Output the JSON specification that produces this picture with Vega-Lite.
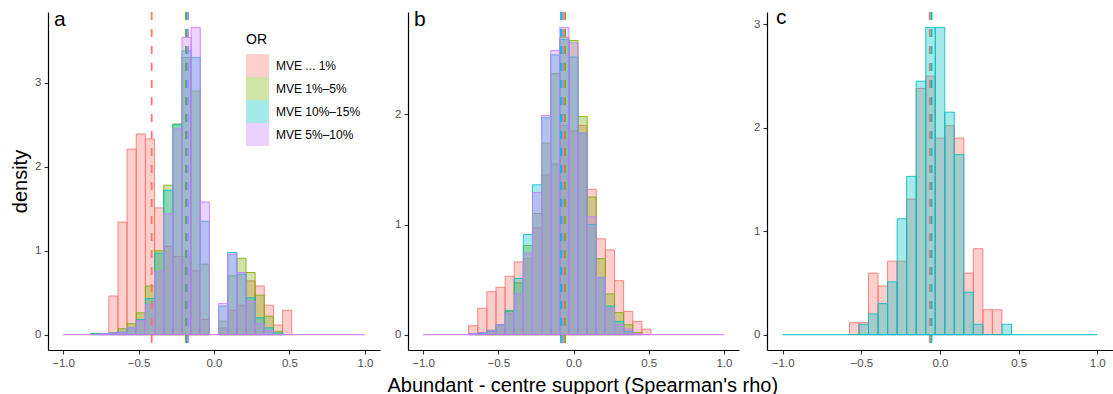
{
  "$schema": "https://vega.github.io/schema/vega-lite/v6.json",
  "background": "white",
  "padding": {"left": 10, "top": 7, "right": 0, "bottom": 0},
  "config": {
    "font": "Liberation Sans",
    "view": {"stroke": null},
    "axis": {
      "grid": false,
      "domainColor": "black",
      "domainWidth": 1.2,
      "tickColor": "#333333",
      "tickSize": 4,
      "tickWidth": 1.1,
      "labelColor": "#4D4D4D",
      "labelFont": "Liberation Sans",
      "labelFontSize": 11.5,
      "labelPadding": 3,
      "titleFont": "Liberation Sans",
      "titleFontWeight": "normal",
      "titleFontSize": 20,
      "titleColor": "black",
      "titlePadding": 4
    },
    "legend": {"padding": 0, "offset": 0}
  },
  "title": {
    "text": "Abundant - centre support (Spearman's rho)",
    "orient": "bottom",
    "anchor": "middle",
    "font": "Liberation Sans",
    "fontSize": 20,
    "fontWeight": "normal",
    "color": "black",
    "offset": 7,
    "dx": 21
  },
  "datasets": {
    "bars_a": [
      {"OR": "MVE ... 1%", "lo": -0.697, "hi": -0.6364, "density": 0.46},
      {"OR": "MVE ... 1%", "lo": -0.6364, "hi": -0.5758, "density": 1.34},
      {"OR": "MVE ... 1%", "lo": -0.5758, "hi": -0.5152, "density": 2.21},
      {"OR": "MVE ... 1%", "lo": -0.5152, "hi": -0.4545, "density": 2.39},
      {"OR": "MVE ... 1%", "lo": -0.4545, "hi": -0.3939, "density": 2.33},
      {"OR": "MVE ... 1%", "lo": -0.3939, "hi": -0.3333, "density": 1.51},
      {"OR": "MVE ... 1%", "lo": -0.3333, "hi": -0.2727, "density": 1.05},
      {"OR": "MVE ... 1%", "lo": -0.2727, "hi": -0.2121, "density": 0.93},
      {"OR": "MVE ... 1%", "lo": -0.2121, "hi": -0.1515, "density": 0.93},
      {"OR": "MVE ... 1%", "lo": -0.1515, "hi": -0.0909, "density": 0.76},
      {"OR": "MVE ... 1%", "lo": -0.0909, "hi": -0.0303, "density": 0.18},
      {"OR": "MVE ... 1%", "lo": 0.0303, "hi": 0.0909, "density": 0.08},
      {"OR": "MVE ... 1%", "lo": 0.0909, "hi": 0.1515, "density": 0.29},
      {"OR": "MVE ... 1%", "lo": 0.1515, "hi": 0.2121, "density": 0.35},
      {"OR": "MVE ... 1%", "lo": 0.2121, "hi": 0.2727, "density": 0.64},
      {"OR": "MVE ... 1%", "lo": 0.2727, "hi": 0.3333, "density": 0.58},
      {"OR": "MVE ... 1%", "lo": 0.3333, "hi": 0.3939, "density": 0.35},
      {"OR": "MVE ... 1%", "lo": 0.3939, "hi": 0.4545, "density": 0.115},
      {"OR": "MVE ... 1%", "lo": 0.4545, "hi": 0.5152, "density": 0.29},

      {"OR": "MVE 1%–5%", "lo": -0.8182, "hi": -0.7576, "density": 0.01},
      {"OR": "MVE 1%–5%", "lo": -0.7576, "hi": -0.697, "density": 0.01},
      {"OR": "MVE 1%–5%", "lo": -0.697, "hi": -0.6364, "density": 0.02},
      {"OR": "MVE 1%–5%", "lo": -0.6364, "hi": -0.5758, "density": 0.07},
      {"OR": "MVE 1%–5%", "lo": -0.5758, "hi": -0.5152, "density": 0.13},
      {"OR": "MVE 1%–5%", "lo": -0.5152, "hi": -0.4545, "density": 0.26},
      {"OR": "MVE 1%–5%", "lo": -0.4545, "hi": -0.3939, "density": 0.58},
      {"OR": "MVE 1%–5%", "lo": -0.3939, "hi": -0.3333, "density": 1.0},
      {"OR": "MVE 1%–5%", "lo": -0.3333, "hi": -0.2727, "density": 1.78},
      {"OR": "MVE 1%–5%", "lo": -0.2727, "hi": -0.2121, "density": 2.51},
      {"OR": "MVE 1%–5%", "lo": -0.2121, "hi": -0.1515, "density": 3.3},
      {"OR": "MVE 1%–5%", "lo": -0.1515, "hi": -0.0909, "density": 2.9},
      {"OR": "MVE 1%–5%", "lo": -0.0909, "hi": -0.0303, "density": 0.84},
      {"OR": "MVE 1%–5%", "lo": 0.0303, "hi": 0.0909, "density": 0.16},
      {"OR": "MVE 1%–5%", "lo": 0.0909, "hi": 0.1515, "density": 0.7},
      {"OR": "MVE 1%–5%", "lo": 0.1515, "hi": 0.2121, "density": 0.91},
      {"OR": "MVE 1%–5%", "lo": 0.2121, "hi": 0.2727, "density": 0.74},
      {"OR": "MVE 1%–5%", "lo": 0.2727, "hi": 0.3333, "density": 0.47},
      {"OR": "MVE 1%–5%", "lo": 0.3333, "hi": 0.3939, "density": 0.22},
      {"OR": "MVE 1%–5%", "lo": 0.3939, "hi": 0.4545, "density": 0.04},

      {"OR": "MVE 10%–15%", "lo": -0.8182, "hi": -0.7576, "density": 0.01},
      {"OR": "MVE 10%–15%", "lo": -0.7576, "hi": -0.697, "density": 0.01},
      {"OR": "MVE 10%–15%", "lo": -0.697, "hi": -0.6364, "density": 0.02},
      {"OR": "MVE 10%–15%", "lo": -0.6364, "hi": -0.5758, "density": 0.03},
      {"OR": "MVE 10%–15%", "lo": -0.5758, "hi": -0.5152, "density": 0.08},
      {"OR": "MVE 10%–15%", "lo": -0.5152, "hi": -0.4545, "density": 0.18},
      {"OR": "MVE 10%–15%", "lo": -0.4545, "hi": -0.3939, "density": 0.43},
      {"OR": "MVE 10%–15%", "lo": -0.3939, "hi": -0.3333, "density": 0.97},
      {"OR": "MVE 10%–15%", "lo": -0.3333, "hi": -0.2727, "density": 1.72},
      {"OR": "MVE 10%–15%", "lo": -0.2727, "hi": -0.2121, "density": 2.5},
      {"OR": "MVE 10%–15%", "lo": -0.2121, "hi": -0.1515, "density": 3.38},
      {"OR": "MVE 10%–15%", "lo": -0.1515, "hi": -0.0909, "density": 3.3},
      {"OR": "MVE 10%–15%", "lo": -0.0909, "hi": -0.0303, "density": 1.35},
      {"OR": "MVE 10%–15%", "lo": 0.0303, "hi": 0.0909, "density": 0.34},
      {"OR": "MVE 10%–15%", "lo": 0.0909, "hi": 0.1515, "density": 0.98},
      {"OR": "MVE 10%–15%", "lo": 0.1515, "hi": 0.2121, "density": 0.72},
      {"OR": "MVE 10%–15%", "lo": 0.2121, "hi": 0.2727, "density": 0.44},
      {"OR": "MVE 10%–15%", "lo": 0.2727, "hi": 0.3333, "density": 0.2},
      {"OR": "MVE 10%–15%", "lo": 0.3333, "hi": 0.3939, "density": 0.08},
      {"OR": "MVE 10%–15%", "lo": 0.3939, "hi": 0.4545, "density": 0.02},

      {"OR": "MVE 5%–10%", "lo": -0.7576, "hi": -0.697, "density": 0.01},
      {"OR": "MVE 5%–10%", "lo": -0.697, "hi": -0.6364, "density": 0.02},
      {"OR": "MVE 5%–10%", "lo": -0.6364, "hi": -0.5758, "density": 0.03},
      {"OR": "MVE 5%–10%", "lo": -0.5758, "hi": -0.5152, "density": 0.08},
      {"OR": "MVE 5%–10%", "lo": -0.5152, "hi": -0.4545, "density": 0.17},
      {"OR": "MVE 5%–10%", "lo": -0.4545, "hi": -0.3939, "density": 0.36},
      {"OR": "MVE 5%–10%", "lo": -0.3939, "hi": -0.3333, "density": 0.75},
      {"OR": "MVE 5%–10%", "lo": -0.3333, "hi": -0.2727, "density": 1.44},
      {"OR": "MVE 5%–10%", "lo": -0.2727, "hi": -0.2121, "density": 2.45},
      {"OR": "MVE 5%–10%", "lo": -0.2121, "hi": -0.1515, "density": 3.54},
      {"OR": "MVE 5%–10%", "lo": -0.1515, "hi": -0.0909, "density": 3.66},
      {"OR": "MVE 5%–10%", "lo": -0.0909, "hi": -0.0303, "density": 1.58},
      {"OR": "MVE 5%–10%", "lo": 0.0303, "hi": 0.0909, "density": 0.37},
      {"OR": "MVE 5%–10%", "lo": 0.0909, "hi": 0.1515, "density": 0.96},
      {"OR": "MVE 5%–10%", "lo": 0.1515, "hi": 0.2121, "density": 0.74},
      {"OR": "MVE 5%–10%", "lo": 0.2121, "hi": 0.2727, "density": 0.4},
      {"OR": "MVE 5%–10%", "lo": 0.2727, "hi": 0.3333, "density": 0.13},
      {"OR": "MVE 5%–10%", "lo": 0.3333, "hi": 0.3939, "density": 0.05}
    ],
    "bars_b": [
      {"OR": "MVE ... 1%", "lo": -0.697, "hi": -0.6364, "density": 0.08},
      {"OR": "MVE ... 1%", "lo": -0.6364, "hi": -0.5758, "density": 0.24},
      {"OR": "MVE ... 1%", "lo": -0.5758, "hi": -0.5152, "density": 0.39},
      {"OR": "MVE ... 1%", "lo": -0.5152, "hi": -0.4545, "density": 0.43},
      {"OR": "MVE ... 1%", "lo": -0.4545, "hi": -0.3939, "density": 0.53},
      {"OR": "MVE ... 1%", "lo": -0.3939, "hi": -0.3333, "density": 0.66},
      {"OR": "MVE ... 1%", "lo": -0.3333, "hi": -0.2727, "density": 0.69},
      {"OR": "MVE ... 1%", "lo": -0.2727, "hi": -0.2121, "density": 0.97},
      {"OR": "MVE ... 1%", "lo": -0.2121, "hi": -0.1515, "density": 1.45},
      {"OR": "MVE ... 1%", "lo": -0.1515, "hi": -0.0909, "density": 1.55},
      {"OR": "MVE ... 1%", "lo": -0.0909, "hi": -0.0303, "density": 1.9},
      {"OR": "MVE ... 1%", "lo": -0.0303, "hi": 0.0303, "density": 1.85},
      {"OR": "MVE ... 1%", "lo": 0.0303, "hi": 0.0909, "density": 1.9},
      {"OR": "MVE ... 1%", "lo": 0.0909, "hi": 0.1515, "density": 1.32},
      {"OR": "MVE ... 1%", "lo": 0.1515, "hi": 0.2121, "density": 0.87},
      {"OR": "MVE ... 1%", "lo": 0.2121, "hi": 0.2727, "density": 0.77},
      {"OR": "MVE ... 1%", "lo": 0.2727, "hi": 0.3333, "density": 0.49},
      {"OR": "MVE ... 1%", "lo": 0.3333, "hi": 0.3939, "density": 0.21},
      {"OR": "MVE ... 1%", "lo": 0.3939, "hi": 0.4545, "density": 0.12},
      {"OR": "MVE ... 1%", "lo": 0.4545, "hi": 0.5152, "density": 0.05},

      {"OR": "MVE 1%–5%", "lo": -0.697, "hi": -0.6364, "density": 0.01},
      {"OR": "MVE 1%–5%", "lo": -0.6364, "hi": -0.5758, "density": 0.02},
      {"OR": "MVE 1%–5%", "lo": -0.5758, "hi": -0.5152, "density": 0.04},
      {"OR": "MVE 1%–5%", "lo": -0.5152, "hi": -0.4545, "density": 0.09},
      {"OR": "MVE 1%–5%", "lo": -0.4545, "hi": -0.3939, "density": 0.21},
      {"OR": "MVE 1%–5%", "lo": -0.3939, "hi": -0.3333, "density": 0.47},
      {"OR": "MVE 1%–5%", "lo": -0.3333, "hi": -0.2727, "density": 0.81},
      {"OR": "MVE 1%–5%", "lo": -0.2727, "hi": -0.2121, "density": 1.1},
      {"OR": "MVE 1%–5%", "lo": -0.2121, "hi": -0.1515, "density": 1.74},
      {"OR": "MVE 1%–5%", "lo": -0.1515, "hi": -0.0909, "density": 2.37},
      {"OR": "MVE 1%–5%", "lo": -0.0909, "hi": -0.0303, "density": 2.7},
      {"OR": "MVE 1%–5%", "lo": -0.0303, "hi": 0.0303, "density": 2.67},
      {"OR": "MVE 1%–5%", "lo": 0.0303, "hi": 0.0909, "density": 1.98},
      {"OR": "MVE 1%–5%", "lo": 0.0909, "hi": 0.1515, "density": 1.25},
      {"OR": "MVE 1%–5%", "lo": 0.1515, "hi": 0.2121, "density": 0.69},
      {"OR": "MVE 1%–5%", "lo": 0.2121, "hi": 0.2727, "density": 0.37},
      {"OR": "MVE 1%–5%", "lo": 0.2727, "hi": 0.3333, "density": 0.2},
      {"OR": "MVE 1%–5%", "lo": 0.3333, "hi": 0.3939, "density": 0.09},
      {"OR": "MVE 1%–5%", "lo": 0.3939, "hi": 0.4545, "density": 0.02},

      {"OR": "MVE 10%–15%", "lo": -0.697, "hi": -0.6364, "density": 0.01},
      {"OR": "MVE 10%–15%", "lo": -0.6364, "hi": -0.5758, "density": 0.01},
      {"OR": "MVE 10%–15%", "lo": -0.5758, "hi": -0.5152, "density": 0.03},
      {"OR": "MVE 10%–15%", "lo": -0.5152, "hi": -0.4545, "density": 0.09},
      {"OR": "MVE 10%–15%", "lo": -0.4545, "hi": -0.3939, "density": 0.22},
      {"OR": "MVE 10%–15%", "lo": -0.3939, "hi": -0.3333, "density": 0.51},
      {"OR": "MVE 10%–15%", "lo": -0.3333, "hi": -0.2727, "density": 0.91},
      {"OR": "MVE 10%–15%", "lo": -0.2727, "hi": -0.2121, "density": 1.36},
      {"OR": "MVE 10%–15%", "lo": -0.2121, "hi": -0.1515, "density": 1.97},
      {"OR": "MVE 10%–15%", "lo": -0.1515, "hi": -0.0909, "density": 2.54},
      {"OR": "MVE 10%–15%", "lo": -0.0909, "hi": -0.0303, "density": 2.68},
      {"OR": "MVE 10%–15%", "lo": -0.0303, "hi": 0.0303, "density": 2.52},
      {"OR": "MVE 10%–15%", "lo": 0.0303, "hi": 0.0909, "density": 1.83},
      {"OR": "MVE 10%–15%", "lo": 0.0909, "hi": 0.1515, "density": 1.0},
      {"OR": "MVE 10%–15%", "lo": 0.1515, "hi": 0.2121, "density": 0.52},
      {"OR": "MVE 10%–15%", "lo": 0.2121, "hi": 0.2727, "density": 0.26},
      {"OR": "MVE 10%–15%", "lo": 0.2727, "hi": 0.3333, "density": 0.12},
      {"OR": "MVE 10%–15%", "lo": 0.3333, "hi": 0.3939, "density": 0.03},

      {"OR": "MVE 5%–10%", "lo": -0.697, "hi": -0.6364, "density": 0.01},
      {"OR": "MVE 5%–10%", "lo": -0.6364, "hi": -0.5758, "density": 0.02},
      {"OR": "MVE 5%–10%", "lo": -0.5758, "hi": -0.5152, "density": 0.04},
      {"OR": "MVE 5%–10%", "lo": -0.5152, "hi": -0.4545, "density": 0.09},
      {"OR": "MVE 5%–10%", "lo": -0.4545, "hi": -0.3939, "density": 0.19},
      {"OR": "MVE 5%–10%", "lo": -0.3939, "hi": -0.3333, "density": 0.37},
      {"OR": "MVE 5%–10%", "lo": -0.3333, "hi": -0.2727, "density": 0.74},
      {"OR": "MVE 5%–10%", "lo": -0.2727, "hi": -0.2121, "density": 1.29},
      {"OR": "MVE 5%–10%", "lo": -0.2121, "hi": -0.1515, "density": 1.99},
      {"OR": "MVE 5%–10%", "lo": -0.1515, "hi": -0.0909, "density": 2.58},
      {"OR": "MVE 5%–10%", "lo": -0.0909, "hi": -0.0303, "density": 2.79},
      {"OR": "MVE 5%–10%", "lo": -0.0303, "hi": 0.0303, "density": 2.65},
      {"OR": "MVE 5%–10%", "lo": 0.0303, "hi": 0.0909, "density": 1.83},
      {"OR": "MVE 5%–10%", "lo": 0.0909, "hi": 0.1515, "density": 1.07},
      {"OR": "MVE 5%–10%", "lo": 0.1515, "hi": 0.2121, "density": 0.52},
      {"OR": "MVE 5%–10%", "lo": 0.2121, "hi": 0.2727, "density": 0.24},
      {"OR": "MVE 5%–10%", "lo": 0.2727, "hi": 0.3333, "density": 0.09},
      {"OR": "MVE 5%–10%", "lo": 0.3333, "hi": 0.3939, "density": 0.05},
      {"OR": "MVE 5%–10%", "lo": 0.3939, "hi": 0.4545, "density": 0.01}
    ],
    "bars_c": [
      {"OR": "group 1", "lo": -0.5758, "hi": -0.5152, "density": 0.116},
      {"OR": "group 1", "lo": -0.5152, "hi": -0.4545, "density": 0.116},
      {"OR": "group 1", "lo": -0.4545, "hi": -0.3939, "density": 0.595},
      {"OR": "group 1", "lo": -0.3939, "hi": -0.3333, "density": 0.47},
      {"OR": "group 1", "lo": -0.3333, "hi": -0.2727, "density": 0.71},
      {"OR": "group 1", "lo": -0.2727, "hi": -0.2121, "density": 0.71},
      {"OR": "group 1", "lo": -0.2121, "hi": -0.1515, "density": 1.31},
      {"OR": "group 1", "lo": -0.1515, "hi": -0.0909, "density": 2.38},
      {"OR": "group 1", "lo": -0.0909, "hi": -0.0303, "density": 2.5},
      {"OR": "group 1", "lo": -0.0303, "hi": 0.0303, "density": 1.9},
      {"OR": "group 1", "lo": 0.0303, "hi": 0.0909, "density": 2.02},
      {"OR": "group 1", "lo": 0.0909, "hi": 0.1515, "density": 1.9},
      {"OR": "group 1", "lo": 0.1515, "hi": 0.2121, "density": 0.595},
      {"OR": "group 1", "lo": 0.2121, "hi": 0.2727, "density": 0.83},
      {"OR": "group 1", "lo": 0.2727, "hi": 0.3333, "density": 0.24},
      {"OR": "group 1", "lo": 0.3333, "hi": 0.3939, "density": 0.24},

      {"OR": "group 2", "lo": -0.5152, "hi": -0.4545, "density": 0.1},
      {"OR": "group 2", "lo": -0.4545, "hi": -0.3939, "density": 0.2},
      {"OR": "group 2", "lo": -0.3939, "hi": -0.3333, "density": 0.3},
      {"OR": "group 2", "lo": -0.3333, "hi": -0.2727, "density": 0.51},
      {"OR": "group 2", "lo": -0.2727, "hi": -0.2121, "density": 1.12},
      {"OR": "group 2", "lo": -0.2121, "hi": -0.1515, "density": 1.53},
      {"OR": "group 2", "lo": -0.1515, "hi": -0.0909, "density": 2.45},
      {"OR": "group 2", "lo": -0.0909, "hi": -0.0303, "density": 2.97},
      {"OR": "group 2", "lo": -0.0303, "hi": 0.0303, "density": 2.97},
      {"OR": "group 2", "lo": 0.0303, "hi": 0.0909, "density": 2.15},
      {"OR": "group 2", "lo": 0.0909, "hi": 0.1515, "density": 1.74},
      {"OR": "group 2", "lo": 0.1515, "hi": 0.2121, "density": 0.41},
      {"OR": "group 2", "lo": 0.2121, "hi": 0.2727, "density": 0.1},
      {"OR": "group 2", "lo": 0.3939, "hi": 0.4545, "density": 0.1}
    ],
    "base_a": [{"OR": "MVE 5%–10%", "lo": -1, "hi": 1}],
    "base_b": [{"OR": "MVE 5%–10%", "lo": -1, "hi": 1}],
    "base_c": [{"OR": "group 2", "lo": -1, "hi": 1}],
    "mean_a": [
      {"OR": "MVE ... 1%", "mean": -0.413},
      {"OR": "MVE 1%–5%", "mean": -0.186},
      {"OR": "MVE 10%–15%", "mean": -0.179},
      {"OR": "MVE 5%–10%", "mean": -0.172}
    ],
    "mean_b": [
      {"OR": "MVE ... 1%", "mean": -0.069},
      {"OR": "MVE 1%–5%", "mean": -0.056},
      {"OR": "MVE 10%–15%", "mean": -0.083},
      {"OR": "MVE 5%–10%", "mean": -0.069}
    ],
    "mean_c": [
      {"OR": "group 1", "mean": -0.065},
      {"OR": "group 2", "mean": -0.054}
    ]
  },
  "bounds": "flush",
  "spacing": 28,
  "resolve": {"scale": {"color": "independent", "stroke": "independent", "x": "independent", "y": "independent"}, "legend": {"color": "independent", "stroke": "independent"}},
  "hconcat": [
    {
      "width": 332,
      "height": 338,
      "layer": [
        {
          "data": {"name": "bars_a"},
          "mark": {"type": "bar", "fillOpacity": 0.35, "strokeWidth": 1, "strokeOpacity": 0.85},
          "encoding": {
            "x": {"field": "lo", "type": "quantitative", "scale": {"domain": [-1.1, 1.1], "nice": false, "zero": false}, "axis": {"values": [-1, -0.5, 0, 0.5, 1], "format": ".1f", "title": null}},
            "x2": {"field": "hi"},
            "y": {"field": "density", "type": "quantitative", "stack": null, "scale": {"domain": [-0.183, 3.843], "nice": false, "zero": false}, "axis": {"values": [0, 1, 2, 3], "format": "d", "title": "density"}},
            "y2": {"datum": 0},
            "color": {"field": "OR", "type": "nominal", "scale": {"domain": ["MVE ... 1%", "MVE 1%–5%", "MVE 10%–15%", "MVE 5%–10%"], "range": ["#F8766D", "#7CAE00", "#00BFC4", "#C77CFF"]},
              "legend": {"orient": "none", "legendX": 198, "legendY": 21, "direction": "vertical", "title": "OR", "titleFont": "Liberation Sans", "titleFontSize": 14, "titleFontWeight": "normal", "titleColor": "black", "titlePadding": 7, "labelFont": "Liberation Sans", "labelFontSize": 12, "labelColor": "black", "labelOffset": 7, "symbolType": "square", "symbolSize": 529, "symbolStrokeWidth": 0, "symbolOpacity": 0.35, "rowPadding": 0}},
            "stroke": {"field": "OR", "type": "nominal", "scale": {"domain": ["MVE ... 1%", "MVE 1%–5%", "MVE 10%–15%", "MVE 5%–10%"], "range": ["#F8766D", "#7CAE00", "#00BFC4", "#C77CFF"]}, "legend": null}
          }
        },
        {
          "data": {"name": "base_a"},
          "mark": {"type": "rule", "strokeWidth": 1.2, "opacity": 0.85},
          "encoding": {
            "x": {"field": "lo", "type": "quantitative"},
            "x2": {"field": "hi"},
            "y": {"datum": 0},
            "color": {"field": "OR", "type": "nominal", "legend": null}
          }
        },
        {
          "data": {"name": "mean_a"},
          "mark": {"type": "rule", "strokeWidth": 1.8, "strokeDash": [8, 9]},
          "encoding": {
            "x": {"field": "mean", "type": "quantitative"},
            "color": {"field": "OR", "type": "nominal", "legend": null}
          }
        },
        {
          "data": {"values": [{"label": "a"}]},
          "mark": {"type": "text", "align": "left", "baseline": "alphabetic", "dx": 6, "dy": 13.5, "fontSize": 21, "font": "Liberation Sans", "color": "black"},
          "encoding": {"x": {"datum": -1.1}, "y": {"datum": 3.843}, "text": {"field": "label"}}
        }
      ]
    },
    {
      "width": 331,
      "height": 338,
      "layer": [
        {
          "data": {"name": "bars_b"},
          "mark": {"type": "bar", "fillOpacity": 0.35, "strokeWidth": 1, "strokeOpacity": 0.85},
          "encoding": {
            "x": {"field": "lo", "type": "quantitative", "scale": {"domain": [-1.1, 1.1], "nice": false, "zero": false}, "axis": {"values": [-1, -0.5, 0, 0.5, 1], "format": ".1f", "title": null}},
            "x2": {"field": "hi"},
            "y": {"field": "density", "type": "quantitative", "stack": null, "scale": {"domain": [-0.1395, 2.9295], "nice": false, "zero": false}, "axis": {"values": [0, 1, 2], "format": "d", "title": null}},
            "y2": {"datum": 0},
            "color": {"field": "OR", "type": "nominal", "scale": {"domain": ["MVE ... 1%", "MVE 1%–5%", "MVE 10%–15%", "MVE 5%–10%"], "range": ["#F8766D", "#7CAE00", "#00BFC4", "#C77CFF"]}, "legend": null},
            "stroke": {"field": "OR", "type": "nominal", "scale": {"domain": ["MVE ... 1%", "MVE 1%–5%", "MVE 10%–15%", "MVE 5%–10%"], "range": ["#F8766D", "#7CAE00", "#00BFC4", "#C77CFF"]}, "legend": null}
          }
        },
        {
          "data": {"name": "base_b"},
          "mark": {"type": "rule", "strokeWidth": 1.2, "opacity": 0.85},
          "encoding": {
            "x": {"field": "lo", "type": "quantitative"},
            "x2": {"field": "hi"},
            "y": {"datum": 0},
            "color": {"field": "OR", "type": "nominal", "legend": null}
          }
        },
        {
          "data": {"name": "mean_b"},
          "mark": {"type": "rule", "strokeWidth": 1.8, "strokeDash": [8, 9]},
          "encoding": {
            "x": {"field": "mean", "type": "quantitative"},
            "color": {"field": "OR", "type": "nominal", "legend": null}
          }
        },
        {
          "data": {"values": [{"label": "b"}]},
          "mark": {"type": "text", "align": "left", "baseline": "alphabetic", "dx": 6, "dy": 13.5, "fontSize": 21, "font": "Liberation Sans", "color": "black"},
          "encoding": {"x": {"datum": -1.1}, "y": {"datum": 2.9295}, "text": {"field": "label"}}
        }
      ]
    },
    {
      "width": 346,
      "height": 338,
      "layer": [
        {
          "data": {"name": "bars_c"},
          "mark": {"type": "bar", "fillOpacity": 0.35, "strokeWidth": 1, "strokeOpacity": 0.85},
          "encoding": {
            "x": {"field": "lo", "type": "quantitative", "scale": {"domain": [-1.1, 1.1], "nice": false, "zero": false}, "axis": {"values": [-1, -0.5, 0, 0.5, 1], "format": ".1f", "title": null}},
            "x2": {"field": "hi"},
            "y": {"field": "density", "type": "quantitative", "stack": null, "scale": {"domain": [-0.1485, 3.1185], "nice": false, "zero": false}, "axis": {"values": [0, 1, 2, 3], "format": "d", "title": null}},
            "y2": {"datum": 0},
            "color": {"field": "OR", "type": "nominal", "scale": {"domain": ["group 1", "group 2"], "range": ["#F8766D", "#00BFC4"]}, "legend": null},
            "stroke": {"field": "OR", "type": "nominal", "scale": {"domain": ["group 1", "group 2"], "range": ["#F8766D", "#00BFC4"]}, "legend": null}
          }
        },
        {
          "data": {"name": "base_c"},
          "mark": {"type": "rule", "strokeWidth": 1.2, "opacity": 0.85},
          "encoding": {
            "x": {"field": "lo", "type": "quantitative"},
            "x2": {"field": "hi"},
            "y": {"datum": 0},
            "color": {"field": "OR", "type": "nominal", "legend": null}
          }
        },
        {
          "data": {"name": "mean_c"},
          "mark": {"type": "rule", "strokeWidth": 1.8, "strokeDash": [8, 9]},
          "encoding": {
            "x": {"field": "mean", "type": "quantitative"},
            "color": {"field": "OR", "type": "nominal", "legend": null}
          }
        },
        {
          "data": {"values": [{"label": "c"}]},
          "mark": {"type": "text", "align": "left", "baseline": "alphabetic", "dx": 9, "dy": 12, "fontSize": 21, "font": "Liberation Sans", "color": "black"},
          "encoding": {"x": {"datum": -1.1}, "y": {"datum": 3.1185}, "text": {"field": "label"}}
        }
      ]
    }
  ]
}
